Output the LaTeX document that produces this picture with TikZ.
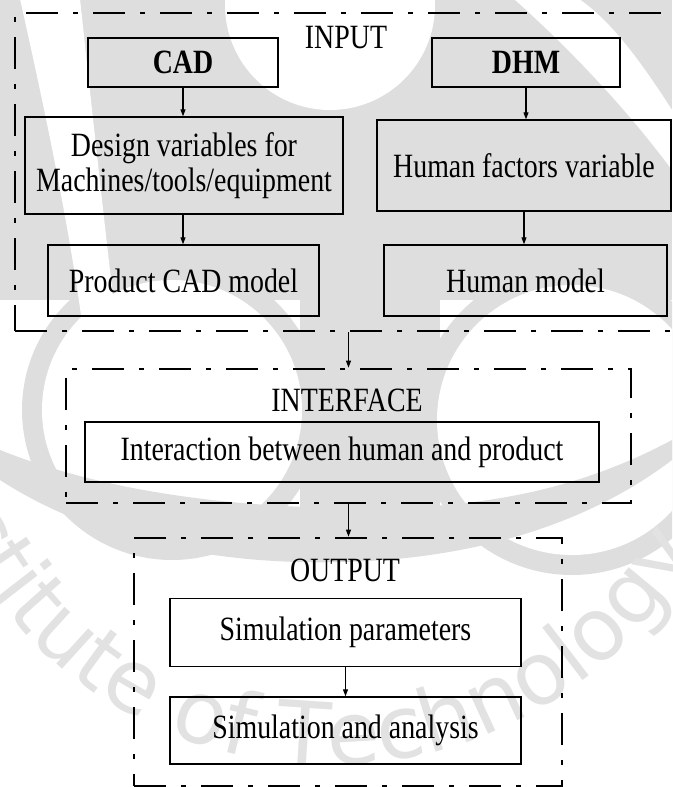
\documentclass[tikz,border=0pt]{standalone}
\usepackage{fontspec}
\setmainfont{Liberation Serif}[FakeStretch=0.82]
\newfontfamily\wmfont{DejaVu Sans}
\usetikzlibrary{arrows.meta,decorations.text}

\definecolor{wm}{RGB}{222,222,222}
\definecolor{wmtext}{RGB}{226,226,226}

\tikzset{
  box/.style={draw, line width=1.4pt, inner sep=0pt, align=center,
              font=\fontsize{34}{35}\selectfont},
  label/.style={inner sep=0pt, font=\fontsize{34}{35}\selectfont},
  frame/.style={draw, line width=2.7pt, inner sep=0pt,
                dash pattern=on 32pt off 15pt on 5pt off 15pt},
  arr/.style={line width=1.1pt, -{Triangle[length=7pt,width=5pt]}},
}

\begin{document}
\begin{tikzpicture}[x=1pt, y=-1pt]
\useasboundingbox (0,0) rectangle (672,787);
\clip (0,0) rectangle (672,787);

% ---- background emblem ----
\fill[wm] (0,0) rectangle (672,300);
\fill[wm] (172,410) circle[radius=150pt];
\fill[wm] (572,420) circle[radius=155pt];
\fill[wm] (300,250) rectangle (440,520);
\fill[white] (330,5) circle[radius=105pt];
\fill[white] (172,410) circle[radius=130pt];
\fill[white] (572,420) circle[radius=135pt];
\fill[white] (20,-1) .. controls (45,110) and (70,230) .. (83,330)
  -- (117,330) .. controls (105,230) and (92,110) .. (80,-1) -- cycle;
\fill[white] (514,-1) .. controls (560,40) and (620,100) .. (672,170)
  -- (672,110) .. controls (640,60) and (610,20) .. (579,-1) -- cycle;
\fill[wm] (0,480) .. controls (100,545) and (230,565) .. (340,562)
  .. controls (460,560) and (580,530) .. (672,460)
  -- (672,440) .. controls (560,500) and (450,510) .. (340,508)
  .. controls (220,506) and (100,490) .. (0,450) -- cycle;
\begin{scope}[shift={(330,345)}, y=1pt]
  \path[decorate, decoration={text along path, text align=right,
      text={|\wmfont\fontsize{87}{87}\selectfont\color{wmtext}|Institute of Technology}}]
    (170:420pt) arc[start angle=170, end angle=331, radius=420pt];
\end{scope}

% ---- INPUT ----
\node[frame, minimum width=700pt, minimum height=318pt] (inframe) at (365,172) {};
\node[label] (inlab) at (346,38) {INPUT};
\node[box, minimum width=190pt, minimum height=49pt] (cad) at (183,62.5) {\textbf{CAD}};
\node[box, minimum width=188pt, minimum height=49pt] (dhm) at (526,62.5) {\textbf{DHM}};
\node[box, minimum width=318pt, minimum height=97pt] (design) at (184,165.5)
  {Design variables for\\Machines/tools/equipment};
\node[box, minimum width=294pt, minimum height=91pt] (hfv) at (524,165.5) {Human factors variable};
\node[box, minimum width=271pt, minimum height=71pt] (pcad) at (183.5,280.5) {Product CAD model};
\node[box, minimum width=283pt, minimum height=71pt] (hmod) at (525.5,280.5) {Human model};

% ---- INTERFACE ----
\node[frame, minimum width=565pt, minimum height=134pt] (ifframe) at (348.5,436) {};
\node[label] (iflab) at (347,400) {INTERFACE};
\node[box, minimum width=514pt, minimum height=60pt] (inter) at (342,452)
  {Interaction between human and product};

% ---- OUTPUT ----
\node[frame, minimum width=428pt, minimum height=248pt] (outframe) at (348,662) {};
\node[label] (outlab) at (345,570) {OUTPUT};
\node[box, minimum width=351pt, minimum height=68pt] (simp) at (345.5,632.5) {Simulation parameters};
\node[box, minimum width=351pt, minimum height=67pt] (sima) at (345.5,730.5) {Simulation and analysis};

% ---- connectors ----
\draw[arr] (cad.south) -- (cad.south |- design.north);
\draw[arr] (design.south -| cad.south) -- (cad.south |- pcad.north);
\draw[arr] (dhm.south) -- (dhm.south |- hfv.north);
\draw[arr] (hfv.south) -- (hfv.south |- hmod.north);
\draw[arr] (ifframe.north |- inframe.south) -- (ifframe.north);
\draw[arr] (ifframe.south) -- (ifframe.south |- outframe.north);
\draw[arr] (simp.south) -- (sima.north);
\end{tikzpicture}
\end{document}
